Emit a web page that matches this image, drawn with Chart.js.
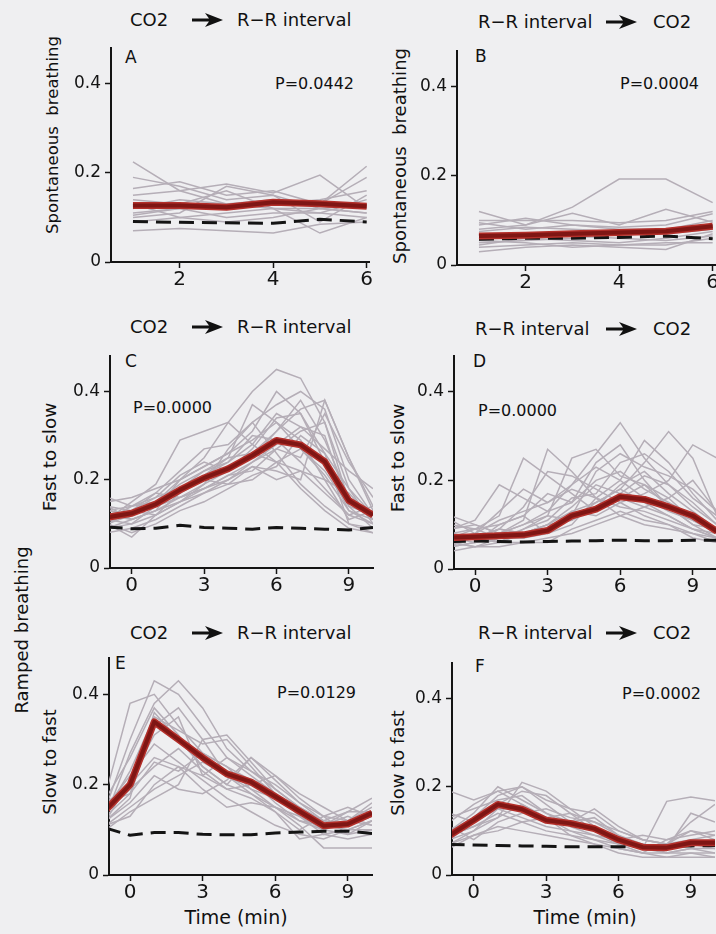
<!DOCTYPE html>
<html lang="en">
<head>
<meta charset="UTF-8">
<title>CO2 and R-R interval coupling</title>
<script src="https://cdn.jsdelivr.net/npm/chart.js@4"></script>
<style>
  html, body { margin: 0; padding: 0; overflow: hidden; background: #efeff1; }
  #fig { position: relative; width: 716px; height: 934px; overflow: hidden; font-family: 'DejaVu Sans', sans-serif; color: #111; }
  #fig canvas { position: absolute; }
  .txt { position: absolute; white-space: pre; line-height: 1; }
  .ttl { font-size: 18px; }
  .ylab { font-size: 18px; transform: translate(-50%, -50%) rotate(-90deg); }
  .tag { font-size: 17px; }
  .pv { font-size: 16px; }
  .xlab { font-size: 19px; transform: translateX(-50%); }
  .arr { position: absolute; }
</style>
</head>
<body>
<div id="fig">
  <!-- column headings -->
  <span class="txt ttl" style="left:130px;top:11px">CO2</span>
  <svg class="arr" style="left:192px;top:12px" width="31" height="16" viewBox="0 0 31 16"><path d="M0,6.5 L17,6.5 L13,1 L31,8 L13,15 L17,9.5 L0,9.5 Z" fill="#111"/></svg>
  <span class="txt ttl" style="left:237px;top:11px">R−R interval</span>

  <span class="txt ttl" style="left:478px;top:13px">R−R interval</span>
  <svg class="arr" style="left:605px;top:14px" width="33" height="16" viewBox="0 0 31 16"><path d="M0,6.5 L17,6.5 L13,1 L31,8 L13,15 L17,9.5 L0,9.5 Z" fill="#111"/></svg>
  <span class="txt ttl" style="left:653px;top:13px">CO2</span>

  <span class="txt ttl" style="left:130px;top:318px">CO2</span>
  <svg class="arr" style="left:192px;top:319px" width="31" height="16" viewBox="0 0 31 16"><path d="M0,6.5 L17,6.5 L13,1 L31,8 L13,15 L17,9.5 L0,9.5 Z" fill="#111"/></svg>
  <span class="txt ttl" style="left:237px;top:318px">R−R interval</span>

  <span class="txt ttl" style="left:475px;top:320px">R−R interval</span>
  <svg class="arr" style="left:605px;top:321px" width="33" height="16" viewBox="0 0 31 16"><path d="M0,6.5 L17,6.5 L13,1 L31,8 L13,15 L17,9.5 L0,9.5 Z" fill="#111"/></svg>
  <span class="txt ttl" style="left:653px;top:320px">CO2</span>

  <span class="txt ttl" style="left:130px;top:624px">CO2</span>
  <svg class="arr" style="left:192px;top:625px" width="31" height="16" viewBox="0 0 31 16"><path d="M0,6.5 L17,6.5 L13,1 L31,8 L13,15 L17,9.5 L0,9.5 Z" fill="#111"/></svg>
  <span class="txt ttl" style="left:237px;top:624px">R−R interval</span>

  <span class="txt ttl" style="left:478px;top:624px">R−R interval</span>
  <svg class="arr" style="left:605px;top:625px" width="33" height="16" viewBox="0 0 31 16"><path d="M0,6.5 L17,6.5 L13,1 L31,8 L13,15 L17,9.5 L0,9.5 Z" fill="#111"/></svg>
  <span class="txt ttl" style="left:653px;top:624px">CO2</span>

  <!-- y axis titles -->
  <span class="txt ylab" style="left:53px;top:135px;font-size:16.5px">Spontaneous  breathing</span>
  <span class="txt ylab" style="left:400px;top:156px">Spontaneous  breathing</span>
  <span class="txt ylab" style="left:50px;top:457px;font-size:18.5px">Fast to slow</span>
  <span class="txt ylab" style="left:398px;top:458px;font-size:18.5px">Fast to slow</span>
  <span class="txt ylab" style="left:50px;top:762px">Slow to fast</span>
  <span class="txt ylab" style="left:398px;top:763px">Slow to fast</span>
  <span class="txt ylab" style="left:22px;top:630px">Ramped breathing</span>

  <!-- panel letters -->
  <span class="txt tag" style="left:125px;top:49px">A</span>
  <span class="txt tag" style="left:475px;top:48px">B</span>
  <span class="txt tag" style="left:125px;top:353px">C</span>
  <span class="txt tag" style="left:473px;top:353px">D</span>
  <span class="txt tag" style="left:115px;top:655px">E</span>
  <span class="txt tag" style="left:475px;top:658px">F</span>

  <!-- significance -->
  <span class="txt pv" style="left:275px;top:76px">P=0.0442</span>
  <span class="txt pv" style="left:620px;top:76px">P=0.0004</span>
  <span class="txt pv" style="left:133px;top:400px">P=0.0000</span>
  <span class="txt pv" style="left:478px;top:403px">P=0.0000</span>
  <span class="txt pv" style="left:277px;top:685px">P=0.0129</span>
  <span class="txt pv" style="left:622px;top:686px">P=0.0002</span>

  <span class="txt xlab" style="left:236px;top:908px">Time (min)</span>
  <span class="txt xlab" style="left:585px;top:908px">Time (min)</span>

  <canvas id="pA"></canvas>
  <canvas id="pB"></canvas>
  <canvas id="pC"></canvas>
  <canvas id="pD"></canvas>
  <canvas id="pE"></canvas>
  <canvas id="pF"></canvas>
</div>

<script>
  // time points (min) and axis ticks
  const tSpont = [1, 2, 3, 4, 5, 6];
  const tRamp = [-1, 0, 1, 2, 3, 4, 5, 6, 7, 8, 9, 10];
  const xTicksSpont = [2, 4, 6];
  const xTicksRamp = [0, 3, 6, 9];
  const yTicks = [0, 0.2, 0.4];

  // A: spontaneous breathing, CO2 -> R-R
  const meanA = [0.127, 0.127, 0.123, 0.134, 0.131, 0.125];
  const threshA = [0.091, 0.089, 0.088, 0.087, 0.096, 0.090];
  const subjA = [
    [0.225, 0.16, 0.13, 0.12, 0.11, 0.10],
    [0.19, 0.17, 0.14, 0.15, 0.12, 0.11],
    [0.165, 0.18, 0.15, 0.16, 0.13, 0.215],
    [0.15, 0.16, 0.175, 0.155, 0.195, 0.12],
    [0.12, 0.14, 0.13, 0.14, 0.13, 0.19],
    [0.11, 0.12, 0.12, 0.13, 0.14, 0.16],
    [0.10, 0.11, 0.17, 0.15, 0.09, 0.15],
    [0.07, 0.075, 0.07, 0.065, 0.085, 0.09],
    [0.13, 0.10, 0.11, 0.12, 0.065, 0.10],
    [0.105, 0.12, 0.10, 0.11, 0.11, 0.14],
    [0.14, 0.13, 0.16, 0.12, 0.12, 0.13],
    [0.09, 0.10, 0.09, 0.10, 0.12, 0.11]
  ];

  // B: spontaneous breathing, R-R -> CO2
  const meanB = [0.065, 0.067, 0.070, 0.073, 0.076, 0.087];
  const threshB = [0.058, 0.060, 0.060, 0.062, 0.065, 0.059];
  const subjB = [
    [0.08, 0.09, 0.13, 0.193, 0.193, 0.14],
    [0.12, 0.09, 0.116, 0.09, 0.125, 0.096],
    [0.10, 0.10, 0.10, 0.095, 0.10, 0.12],
    [0.09, 0.105, 0.09, 0.085, 0.09, 0.115],
    [0.095, 0.08, 0.09, 0.08, 0.08, 0.10],
    [0.05, 0.055, 0.06, 0.07, 0.08, 0.09],
    [0.04, 0.045, 0.05, 0.045, 0.045, 0.06],
    [0.03, 0.04, 0.045, 0.04, 0.035, 0.07],
    [0.06, 0.07, 0.065, 0.06, 0.055, 0.065],
    [0.055, 0.05, 0.04, 0.045, 0.05, 0.05],
    [0.075, 0.085, 0.08, 0.075, 0.07, 0.08],
    [0.045, 0.06, 0.055, 0.05, 0.06, 0.075]
  ];

  // C: ramped fast to slow, CO2 -> R-R
  const meanC = [0.115, 0.124, 0.145, 0.177, 0.204, 0.225, 0.255, 0.289, 0.279, 0.241, 0.153, 0.120];
  const threshC = [0.093, 0.089, 0.090, 0.097, 0.092, 0.090, 0.088, 0.092, 0.090, 0.088, 0.086, 0.092];
  const subjC = [
    [0.10, 0.12, 0.15, 0.20, 0.25, 0.33, 0.40, 0.45, 0.43, 0.33, 0.15, 0.11],
    [0.13, 0.14, 0.17, 0.22, 0.27, 0.28, 0.33, 0.37, 0.40, 0.36, 0.20, 0.12],
    [0.12, 0.11, 0.13, 0.16, 0.19, 0.22, 0.26, 0.31, 0.36, 0.38, 0.25, 0.14],
    [0.11, 0.15, 0.19, 0.29, 0.31, 0.33, 0.28, 0.24, 0.22, 0.17, 0.12, 0.10],
    [0.14, 0.13, 0.12, 0.15, 0.18, 0.21, 0.24, 0.28, 0.32, 0.30, 0.14, 0.09],
    [0.09, 0.10, 0.14, 0.18, 0.22, 0.25, 0.37, 0.33, 0.27, 0.21, 0.13, 0.11],
    [0.15, 0.16, 0.18, 0.20, 0.23, 0.26, 0.29, 0.33, 0.29, 0.20, 0.11, 0.13],
    [0.08, 0.09, 0.11, 0.14, 0.17, 0.20, 0.24, 0.27, 0.25, 0.35, 0.24, 0.16],
    [0.12, 0.13, 0.16, 0.21, 0.24, 0.22, 0.27, 0.34, 0.35, 0.26, 0.10, 0.09],
    [0.10, 0.08, 0.10, 0.13, 0.15, 0.18, 0.21, 0.23, 0.30, 0.26, 0.18, 0.12],
    [0.13, 0.12, 0.15, 0.19, 0.22, 0.24, 0.30, 0.29, 0.24, 0.18, 0.12, 0.14],
    [0.11, 0.10, 0.12, 0.17, 0.20, 0.19, 0.23, 0.20, 0.22, 0.20, 0.17, 0.11],
    [0.16, 0.14, 0.16, 0.18, 0.20, 0.23, 0.25, 0.31, 0.38, 0.29, 0.16, 0.12],
    [0.09, 0.11, 0.13, 0.15, 0.19, 0.27, 0.33, 0.26, 0.19, 0.14, 0.10, 0.08],
    [0.12, 0.12, 0.14, 0.18, 0.21, 0.24, 0.28, 0.35, 0.32, 0.27, 0.22, 0.18],
    [0.10, 0.13, 0.17, 0.16, 0.18, 0.21, 0.22, 0.27, 0.31, 0.33, 0.18, 0.10],
    [0.14, 0.11, 0.13, 0.20, 0.23, 0.26, 0.31, 0.40, 0.35, 0.24, 0.13, 0.10],
    [0.11, 0.14, 0.15, 0.17, 0.21, 0.25, 0.26, 0.24, 0.27, 0.22, 0.14, 0.12],
    [0.13, 0.12, 0.14, 0.16, 0.18, 0.20, 0.23, 0.22, 0.20, 0.38, 0.25, 0.13],
    [0.10, 0.07, 0.12, 0.15, 0.17, 0.19, 0.20, 0.24, 0.18, 0.13, 0.09, 0.08]
  ];

  // D: ramped fast to slow, R-R -> CO2
  const meanD = [0.071, 0.073, 0.075, 0.077, 0.087, 0.120, 0.135, 0.163, 0.157, 0.140, 0.120, 0.085];
  const threshD = [0.062, 0.063, 0.062, 0.061, 0.062, 0.063, 0.064, 0.065, 0.064, 0.064, 0.065, 0.065];
  const subjD = [
    [0.08, 0.07, 0.09, 0.14, 0.22, 0.21, 0.18, 0.15, 0.12, 0.10, 0.08, 0.07],
    [0.06, 0.07, 0.08, 0.10, 0.13, 0.19, 0.26, 0.33, 0.25, 0.19, 0.14, 0.10],
    [0.09, 0.11, 0.19, 0.16, 0.13, 0.15, 0.20, 0.22, 0.18, 0.15, 0.12, 0.08],
    [0.05, 0.06, 0.07, 0.08, 0.10, 0.13, 0.15, 0.18, 0.24, 0.31, 0.25, 0.12],
    [0.07, 0.08, 0.06, 0.09, 0.12, 0.25, 0.27, 0.21, 0.19, 0.16, 0.11, 0.09],
    [0.10, 0.09, 0.12, 0.25, 0.21, 0.17, 0.13, 0.16, 0.14, 0.12, 0.09, 0.07],
    [0.06, 0.05, 0.07, 0.07, 0.08, 0.10, 0.16, 0.20, 0.29, 0.24, 0.17, 0.11],
    [0.08, 0.09, 0.10, 0.12, 0.17, 0.15, 0.24, 0.28, 0.20, 0.14, 0.10, 0.09],
    [0.04, 0.05, 0.06, 0.06, 0.07, 0.08, 0.10, 0.12, 0.14, 0.16, 0.20, 0.13],
    [0.12, 0.10, 0.08, 0.11, 0.27, 0.22, 0.16, 0.12, 0.10, 0.09, 0.08, 0.06],
    [0.06, 0.07, 0.09, 0.08, 0.10, 0.14, 0.19, 0.17, 0.21, 0.19, 0.15, 0.10],
    [0.07, 0.06, 0.08, 0.10, 0.12, 0.11, 0.14, 0.19, 0.22, 0.17, 0.13, 0.09],
    [0.05, 0.08, 0.11, 0.13, 0.15, 0.18, 0.16, 0.14, 0.13, 0.11, 0.09, 0.07],
    [0.09, 0.10, 0.08, 0.07, 0.09, 0.12, 0.22, 0.26, 0.23, 0.21, 0.18, 0.13],
    [0.06, 0.05, 0.05, 0.06, 0.06, 0.09, 0.11, 0.13, 0.11, 0.10, 0.07, 0.06],
    [0.11, 0.08, 0.13, 0.18, 0.15, 0.19, 0.23, 0.20, 0.16, 0.13, 0.11, 0.08],
    [0.07, 0.09, 0.07, 0.09, 0.11, 0.16, 0.17, 0.24, 0.26, 0.22, 0.16, 0.12],
    [0.05, 0.06, 0.10, 0.12, 0.08, 0.13, 0.12, 0.15, 0.17, 0.20, 0.28, 0.25],
    [0.08, 0.07, 0.09, 0.08, 0.10, 0.11, 0.15, 0.18, 0.15, 0.12, 0.09, 0.08],
    [0.06, 0.07, 0.06, 0.08, 0.09, 0.12, 0.14, 0.16, 0.19, 0.14, 0.10, 0.07]
  ];

  // E: ramped slow to fast, CO2 -> R-R
  const meanE = [0.144, 0.200, 0.339, 0.300, 0.260, 0.224, 0.206, 0.174, 0.141, 0.109, 0.113, 0.137];
  const threshE = [0.104, 0.088, 0.094, 0.094, 0.090, 0.089, 0.089, 0.093, 0.095, 0.097, 0.097, 0.092];
  const subjE = [
    [0.15, 0.30, 0.43, 0.40, 0.33, 0.26, 0.22, 0.18, 0.14, 0.11, 0.10, 0.12],
    [0.13, 0.27, 0.38, 0.43, 0.37, 0.28, 0.23, 0.19, 0.15, 0.12, 0.11, 0.13],
    [0.18, 0.38, 0.40, 0.33, 0.27, 0.24, 0.21, 0.16, 0.12, 0.10, 0.12, 0.15],
    [0.12, 0.17, 0.36, 0.30, 0.24, 0.20, 0.26, 0.22, 0.17, 0.13, 0.12, 0.16],
    [0.14, 0.23, 0.35, 0.32, 0.29, 0.30, 0.24, 0.18, 0.13, 0.09, 0.10, 0.12],
    [0.11, 0.15, 0.19, 0.22, 0.25, 0.22, 0.19, 0.17, 0.14, 0.11, 0.13, 0.11],
    [0.16, 0.20, 0.26, 0.24, 0.22, 0.26, 0.23, 0.20, 0.16, 0.13, 0.09, 0.10],
    [0.10, 0.14, 0.17, 0.20, 0.30, 0.31, 0.25, 0.19, 0.15, 0.12, 0.14, 0.14],
    [0.13, 0.18, 0.33, 0.37, 0.30, 0.22, 0.18, 0.14, 0.08, 0.09, 0.08, 0.09],
    [0.12, 0.16, 0.22, 0.19, 0.18, 0.21, 0.26, 0.21, 0.16, 0.12, 0.11, 0.13],
    [0.15, 0.22, 0.29, 0.25, 0.21, 0.17, 0.14, 0.11, 0.09, 0.08, 0.10, 0.10],
    [0.11, 0.13, 0.20, 0.24, 0.19, 0.15, 0.16, 0.15, 0.11, 0.06, 0.06, 0.06],
    [0.17, 0.26, 0.37, 0.31, 0.24, 0.20, 0.18, 0.15, 0.12, 0.11, 0.14, 0.17],
    [0.14, 0.19, 0.24, 0.28, 0.23, 0.19, 0.20, 0.22, 0.18, 0.15, 0.12, 0.11],
    [0.12, 0.21, 0.31, 0.35, 0.22, 0.19, 0.17, 0.14, 0.10, 0.13, 0.15, 0.13],
    [0.16, 0.18, 0.25, 0.23, 0.27, 0.24, 0.19, 0.15, 0.13, 0.10, 0.09, 0.12]
  ];

  // F: ramped slow to fast, R-R -> CO2
  const meanF = [0.090, 0.124, 0.160, 0.149, 0.124, 0.117, 0.105, 0.080, 0.063, 0.062, 0.073, 0.073];
  const threshF = [0.069, 0.068, 0.067, 0.066, 0.065, 0.064, 0.064, 0.064, 0.065, 0.066, 0.066, 0.067];
  const subjF = [
    [0.19, 0.17, 0.19, 0.20, 0.17, 0.15, 0.14, 0.10, 0.08, 0.07, 0.08, 0.07],
    [0.08, 0.12, 0.16, 0.19, 0.18, 0.14, 0.12, 0.09, 0.07, 0.06, 0.07, 0.06],
    [0.10, 0.14, 0.20, 0.17, 0.14, 0.12, 0.15, 0.11, 0.08, 0.07, 0.10, 0.09],
    [0.07, 0.10, 0.13, 0.21, 0.19, 0.15, 0.11, 0.08, 0.06, 0.05, 0.06, 0.05],
    [0.12, 0.16, 0.19, 0.16, 0.13, 0.14, 0.10, 0.07, 0.05, 0.05, 0.06, 0.06],
    [0.09, 0.11, 0.14, 0.12, 0.10, 0.09, 0.08, 0.07, 0.06, 0.167, 0.177, 0.168],
    [0.11, 0.08, 0.12, 0.14, 0.15, 0.13, 0.12, 0.10, 0.08, 0.07, 0.12, 0.16],
    [0.06, 0.09, 0.11, 0.10, 0.09, 0.08, 0.07, 0.06, 0.05, 0.04, 0.04, 0.04],
    [0.13, 0.15, 0.17, 0.18, 0.14, 0.11, 0.09, 0.08, 0.09, 0.08, 0.09, 0.10],
    [0.08, 0.10, 0.15, 0.13, 0.11, 0.10, 0.08, 0.06, 0.05, 0.08, 0.10, 0.08],
    [0.10, 0.13, 0.18, 0.20, 0.16, 0.12, 0.10, 0.08, 0.06, 0.06, 0.14, 0.12],
    [0.07, 0.09, 0.10, 0.12, 0.13, 0.10, 0.09, 0.07, 0.07, 0.05, 0.05, 0.05],
    [0.14, 0.12, 0.15, 0.15, 0.12, 0.12, 0.13, 0.09, 0.06, 0.06, 0.08, 0.09],
    [0.09, 0.11, 0.13, 0.16, 0.13, 0.09, 0.07, 0.05, 0.04, 0.04, 0.05, 0.04]
  ];

  const GREY = '#b5aeb7';
  const RED_EDGE = '#b32f2a';
  const RED_CORE = '#7f1614';
  const INK = '#141414';
  const FONT = "'DejaVu Sans', sans-serif";

  // space reserved around each plot area inside its canvas
  const AXIS_W = 70, AXIS_H = 34, PAD_T = 8, PAD_R = 8;

  function pts(t, v) {
    return v.map((y, i) => ({ x: t[i], y: y }));
  }

  function drawPanel(id, box, t, xMin, xMax, xTicks, subj, thresh, mean) {
    const cv = document.getElementById(id);
    cv.width = AXIS_W + box.w + PAD_R;
    cv.height = PAD_T + box.h + AXIS_H;
    cv.style.left = (box.l - AXIS_W) + 'px';
    cv.style.top = (box.t - PAD_T) + 'px';

    const datasets = subj.map(s => ({ data: pts(t, s), borderColor: GREY, borderWidth: 1.5, order: 3 }));
    datasets.push({ data: pts(t, thresh), borderColor: INK, borderWidth: 3, borderDash: [15, 8], order: 2 });
    datasets.push({ data: pts(t, mean), borderColor: RED_EDGE, borderWidth: 7, borderJoinStyle: 'round', order: 1 });
    datasets.push({ data: pts(t, mean), borderColor: RED_CORE, borderWidth: 4, borderJoinStyle: 'round', order: 0 });

    new Chart(cv, {
      type: 'line',
      data: { datasets },
      options: {
        responsive: false,
        animation: false,
        events: [],
        layout: { padding: { top: PAD_T, right: PAD_R, left: 0, bottom: 0 } },
        plugins: { legend: { display: false }, tooltip: { enabled: false } },
        elements: { point: { radius: 0 }, line: { tension: 0 } },
        scales: {
          x: {
            type: 'linear',
            min: xMin,
            max: xMax,
            afterBuildTicks: ax => { ax.ticks = xTicks.map(v => ({ value: v })); },
            afterFit: s => { s.height = AXIS_H; },
            grid: { drawOnChartArea: false, tickLength: 6, tickWidth: 1.5, tickColor: INK },
            border: { color: INK, width: 2 },
            ticks: { font: { family: FONT, size: 20 }, color: INK, padding: 0, maxRotation: 0, autoSkip: false }
          },
          y: {
            min: 0,
            max: 0.48,
            afterBuildTicks: ax => { ax.ticks = yTicks.map(v => ({ value: v })); },
            afterFit: s => { s.width = AXIS_W; },
            grid: { drawOnChartArea: false, tickLength: 6, tickWidth: 1.5, tickColor: INK },
            border: { color: INK, width: 2 },
            ticks: { font: { family: FONT, size: 17 }, color: INK, padding: 4,
                     callback: v => v === 0 ? '0' : v.toFixed(1) }
          }
        }
      }
    });
  }

  drawPanel('pA', { l: 111, t: 42, w: 258, h: 220 }, tSpont, 0.53, 6.05, xTicksSpont, subjA, threshA, meanA);
  drawPanel('pB', { l: 457, t: 45, w: 258, h: 220 }, tSpont, 0.53, 6.05, xTicksSpont, subjB, threshB, meanB);
  drawPanel('pC', { l: 110, t: 350, w: 263, h: 218 }, tRamp, -0.9, 10, xTicksRamp, subjC, threshC, meanC);
  drawPanel('pD', { l: 454, t: 350, w: 263, h: 219 }, tRamp, -0.87, 10, xTicksRamp, subjD, threshD, meanD);
  drawPanel('pE', { l: 109, t: 652, w: 263, h: 223 }, tRamp, -0.87, 10, xTicksRamp, subjE, threshE, meanE);
  drawPanel('pF', { l: 452, t: 657, w: 263, h: 218 }, tRamp, -0.9, 10, xTicksRamp, subjF, threshF, meanF);
</script>
</body>
</html>
